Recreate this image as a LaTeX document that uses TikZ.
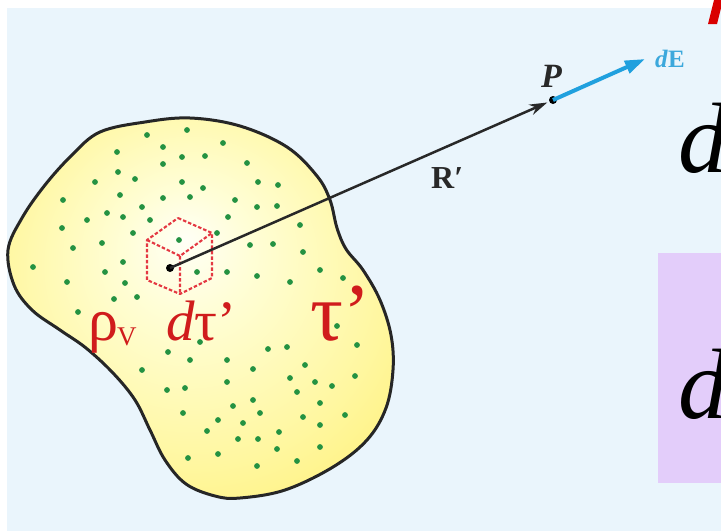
\documentclass[tikz,border=0pt]{standalone}
\usepackage{fontspec}
\setmainfont{Liberation Serif}
\usetikzlibrary{arrows.meta}
\definecolor{bgblue}{RGB}{234,245,252}
\definecolor{yc0}{RGB}{255,255,246}
\definecolor{yc1}{RGB}{255,254,215}
\definecolor{yc2}{RGB}{255,247,160}
\definecolor{yc3}{RGB}{255,238,105}
\definecolor{dotgreen}{RGB}{36,146,66}
\definecolor{outl}{RGB}{38,38,38}
\definecolor{redtxt}{RGB}{208,28,28}
\definecolor{cubered}{RGB}{228,56,66}
\definecolor{arrowblue}{RGB}{32,160,222}
\definecolor{labelblue}{RGB}{60,168,220}
\definecolor{boxpurple}{RGB}{227,205,250}
\definecolor{darkgray}{RGB}{40,40,40}
\pgfdeclareradialshading{blobshade}{\pgfpoint{-2bp}{9bp}}{color(0bp)=(yc0); color(8bp)=(yc1); color(25bp)=(yc2); color(40bp)=(yc3); color(50bp)=(yc3)}
\tikzset{
  gdot/.style={fill=dotgreen},
  blobline/.style={draw=outl, line width=3pt},
  cubeline/.style={draw=cubered, line width=2.1pt, dash pattern=on 3.5pt off 2pt, line join=round},
  redlabel/.style={text=redtxt, anchor=base west, inner sep=0pt},
  blacklabel/.style={text=darkgray, anchor=base west, inner sep=0pt},
  ptdot/.style={circle, fill=black, inner sep=0pt, minimum size=8pt},
  rvec/.style={draw=darkgray, line width=2.5pt, -{Stealth[length=18pt,width=11pt]}, shorten >=2pt},
  evec/.style={draw=arrowblue, line width=4pt, -{Triangle[length=20pt,width=13pt]}},
}
\begin{document}
\begin{tikzpicture}[x=1pt,y=-1pt]
\clip (0,0) rectangle (721,531);
\fill[white] (0,0) rectangle (721,531);
\fill[bgblue] (7,8) rectangle (721,531);
% purple box
\fill[boxpurple] (658,253) rectangle (721,483);
% blob
\path[shading=blobshade, blobline] plot[smooth cycle, tension=0.6] coordinates {
(8,250) (14,285) (32,310) (60,330) (86,348) (113,373) (135,400) (150,430) (165,460) (186,484) (215,496) (240,498) (285,490) (333,467) (367,440) (386,408) (393,370) (391,335) (380,300) (363,270) (346,249) (337,228) (330,200) (317,176) (287,147) (240,126) (190,118) (145,122) (100,132) (72,155) (45,185) (22,218)};
% dots
\foreach \p in {(147,135),(187,130),(163,147),(223,143),(117,152),(182,157),(205,156),(247,163),(163,164),(118,172),(135,179),(95,182),(182,182),(203,188),(258,182),(278,185),(63,200),(120,195),(163,198),(190,197),(235,200),(257,207),(277,206),(87,220),(107,213),(142,207),(62,228),(123,217),(150,220),(228,217),(300,225),(133,233),(179,240),(217,233),(250,245),(273,244),(73,248),(102,243),(303,252),(33,267),(123,262),(197,272),(227,272),(257,276),(290,282),(320,270),(67,282),(105,272),(125,283),(343,278),(114,299),(137,297),(78,312),(337,326),(168,352),(200,342),(268,349),(287,347),(357,345),(142,370),(190,360),(227,360),(253,369),(305,365),(355,376),(167,390),(185,388),(227,382),(290,378),(315,382),(332,386),(297,392),(183,413),(233,406),(253,400),(260,413),(320,403),(345,415),(218,420),(243,423),(303,417),(320,425),(207,431),(238,439),(258,439),(279,432),(277,449),(320,447),(188,458),(218,454),(257,466),(297,461)}
  \fill[gdot] \p circle (2.9);
% cube
\coordinate (cT) at (178,218);
\coordinate (cUR) at (212,233);
\coordinate (cLR) at (212,278);
\coordinate (cB) at (180,294);
\coordinate (cLL) at (147,280);
\coordinate (cUL) at (147,240);
\coordinate (cC) at (180,256);
\draw[cubeline] (cT) -- (cUR) -- (cLR) -- (cB) -- (cLL) -- (cUL) -- cycle;
\draw[cubeline] (cUL) -- (cC) -- (cUR) (cC) -- (cB);
% points and vectors
\node[ptdot] (src) at (170,268) {};
\node[ptdot] (Pd) at (553,100) {};
\coordinate (Etip) at (645,59);
\draw[rvec] (src.center) -- (Pd);
\draw[evec] (Pd.center) -- (Etip);
% labels
\node[blacklabel] (Rlab) at (431,188) {\fontsize{32}{32}\selectfont\bfseries R′};
\node[blacklabel] (Plab) at (541,87) {\fontsize{34}{34}\selectfont\bfseries\itshape P};
\node[anchor=base west, inner sep=0pt, text=labelblue] (dElab) at (655,67) {\fontsize{25}{25}\selectfont\bfseries\textit{d}E};
\node[redlabel] (rho) at (88,340) {\fontsize{60}{60}\selectfont ρ};
\node[redlabel] (rhoV) at (117,345) {\fontsize{27}{27}\selectfont V};
\node[redlabel] (dtau) at (166,340) {\fontsize{57}{57}\selectfont\textit{d}τ’};
\node[redlabel] (tau) at (310,340) {\fontsize{82}{82}\selectfont τ’};
\node[anchor=base west, inner sep=0pt, text=black] (d1) at (678,172) {\fontsize{100}{100}\selectfont\itshape d};
\node[anchor=base west, inner sep=0pt, text=black] (d2) at (678,418) {\fontsize{100}{100}\selectfont\itshape d};
% red fragment at top right
\fill[red!85!black] (714,0) -- (722,0) -- (722,4) -- (717,24) -- (708,24) -- cycle;
\end{tikzpicture}
\end{document}
